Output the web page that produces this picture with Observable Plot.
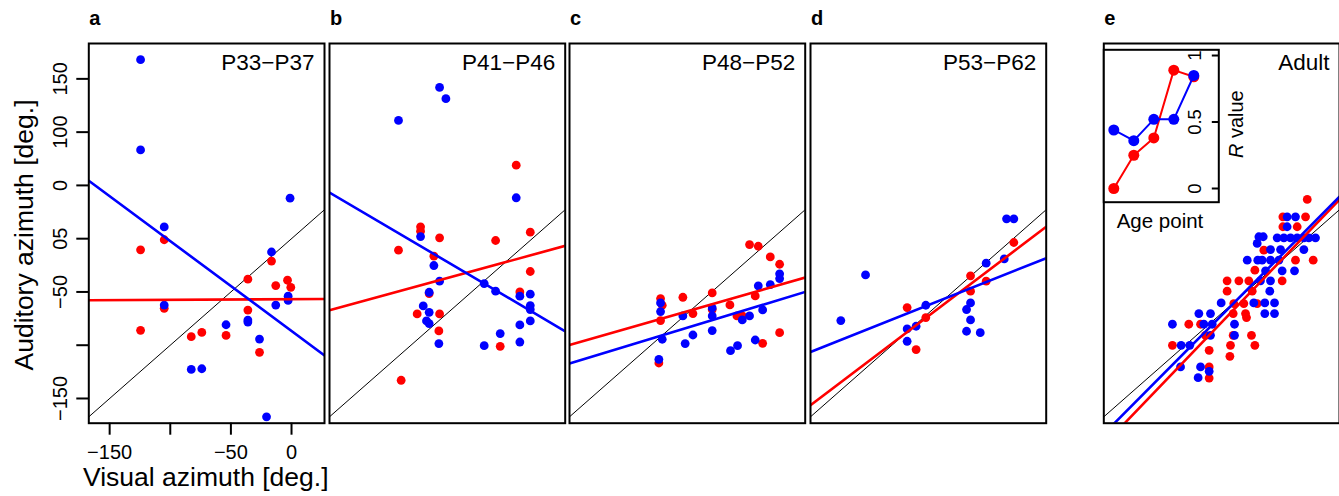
<!DOCTYPE html>
<html><head><meta charset="utf-8">
<script src="https://cdn.jsdelivr.net/npm/d3@7"></script>
<script src="https://cdn.jsdelivr.net/npm/@observablehq/plot@0.6"></script>
<style>
body{margin:0;background:#fff;}
#root{position:relative;width:1339px;height:496px;overflow:hidden;background:#fff;}
#root svg{position:absolute;left:0;top:0;background:transparent !important;overflow:visible;}
</style></head><body><div id="root"></div>
<script>
// ---------- data ----------
const panelLetters = ["a","b","c","d","e"];
const panelTitles = ["P33\u2212P37","P41\u2212P46","P48\u2212P52","P53\u2212P62","Adult"];

const aRed = [[-105,-1],[-124.5,-10.5],[-16.5,-21],[-36,-38],[-13,-44],[-3.3,-39],[-0.6,-45.7],[-105,-65.4],[-36,-67],[-124.5,-86],[-74,-88],[-82.7,-92],[-54,-90.8],[-26.4,-106.7]];
const aBlue = [[-124.5,168],[-124.5,83.3],[-1.2,38],[-105,11],[-16.5,-12.5],[-2.8,-54],[-2.8,-58],[-13,-62.3],[-105,-62.3],[-36,-76.4],[-36,-78.3],[-54,-80.8],[-26.4,-94.2],[-82.7,-122.7],[-74,-122.1],[-20.6,-167.2]];

const bRed = [[-13.2,69],[-92.1,11.1],[-92.1,7],[-76.4,0.8],[-110.3,-10.8],[-1.6,6.1],[-30.2,-1.7],[-81.1,-16.4],[-1.6,-30.8],[-85,-51.5],[-10.2,-50],[-94.9,-70.6],[-76.4,-70.6],[-77,-86.6],[-26.4,-101],[-108.1,-132.9]];
const bBlue = [[-76.4,142],[-71.2,131.4],[-110.3,111],[-13.2,38.4],[-92.1,2],[-81.1,-25.2],[-76.4,-39.9],[-85,-50.3],[-89.9,-63.1],[-85,-69.1],[-87.2,-77.2],[-85,-79.7],[-77,-98.5],[-39.6,-42.1],[-30.2,-49.3],[-10.2,-54],[-1.6,-52.1],[-1.6,-62.8],[-1.6,-66.5],[-1.6,-77.2],[-10.2,-81],[-26.4,-89.1],[-39.6,-100.4],[-10.2,-97]];

const cRed = [[-92.1,-56.2],[-90.7,-62.5],[-92.1,-76.9],[-93.5,-116.7],[-73.7,-55],[-65.4,-70.3],[-49.5,-50.9],[-49.5,-66.5],[-34.9,-62.2],[-29.1,-72.5],[-24.7,-72.5],[-18.7,-5.5],[-11.5,-7.1],[-1.6,-17.1],[6.1,-24],[-14,-53.7],[6.1,-88.2],[-7.9,-98.2]];
const cBlue = [[-92.1,-60.3],[-92.1,-68.4],[-90.7,-94.4],[-93.5,-113.2],[-73.7,-72.5],[-71.8,-98.5],[-65.4,-90.4],[-49.5,-65],[-49.5,-72.5],[-49.5,-86.3],[-34.4,-105.1],[-28.6,-100.4],[-24.7,-76.3],[-18.7,-72.5],[-11.5,-44.3],[-7.9,-66.9],[-14,-95.1],[-1.6,-43.1],[6.1,-33],[6.1,-37.4]];

const dRed = [[-87.5,-64.7],[-80.1,-104.1],[-72.1,-74.1],[-35.2,-34.9],[-35.2,-49.3],[-22.3,-39.9],[0.5,-3.6]];
const dBlue = [[-142.2,-76.9],[-121.8,-34],[-87.5,-84.7],[-87.5,-96.3],[-80.1,-82.2],[-72.1,-62.5],[-38.5,-66.5],[-35.2,-60.3],[-35.2,-76.3],[-38.5,-86.9],[-27.2,-88.2],[-22.3,-23],[-7.4,-19],[-5.5,18.6],[0.5,18.6]];

const eRed = [[0.6,36.8],[-19.5,20.5],[-0.8,20.5],[-19.5,11.2],[-7.7,11.2],[-35.2,-10.8],[5.5,-20.2],[-9.1,-20.2],[-42.6,-29.6],[-20.1,-39.6],[-65.5,-39.6],[-55.8,-39.6],[-47.6,-39.6],[-65.5,-49.3],[-44.8,-49.3],[-60,-60.9],[-51.7,-60.9],[-40.7,-60.9],[-60.5,-70.3],[-50.3,-70.3],[-49.5,-74.1],[-97.1,-80.3],[-87.4,-80.3],[-83.3,-90.7],[-60.5,-90.7],[-45.4,-90.7],[-110.6,-100.1],[-62.7,-100.1],[-42.6,-100.1],[-80.3,-104.8],[-63.2,-110.4],[-80.3,-120.4],[-80.3,-130.8]];
const eBlue = [[-16,20.5],[-9.1,20.5],[-16,11.2],[-39.3,1.8],[-35.7,1.8],[-24.2,0.8],[-18.7,0.8],[-13.2,0.8],[-7.7,0.8],[-2.2,0.8],[1.9,0.8],[7.4,0.8],[-40.7,-4.5],[-29.7,-10.2],[-21.4,-10.2],[-2.2,-10.2],[-48.9,-20.2],[-40.2,-20.2],[-36.6,-20.2],[-29.7,-20.2],[-22.8,-20.2],[-33.8,-30.2],[-20.1,-30.2],[-9.9,-30.2],[-29.7,-39.6],[-38,-39.6],[-30.3,-49.3],[-70.4,-60.3],[-43.5,-60.3],[-34.4,-60.3],[-26.4,-60.3],[-88.8,-70.3],[-79.2,-70.3],[-34.4,-70.3],[-26.4,-70.3],[-110.6,-80.3],[-84.7,-80.3],[-77.8,-80.3],[-59.4,-80.3],[-79.2,-90.7],[-59.4,-90.7],[-103.4,-100.1],[-96.3,-100.1],[-103.9,-120.4],[-87.4,-120.4],[-80.3,-124.5],[-89.4,-130.5]];

// regression fits per panel: [slope, intercept]
const redFits  = [[0.006,-56.8],[0.311,-15.2],[0.326,-45.4],[0.862,-12.3],[1.185,4.5]];
const blueFits = [[-0.843,-86.6],[-0.670,-68.7],[0.346,-59.4],[0.453,-30.6],[1.145,8.2]];

const xTickValues = [-150,-100,-50,0];
const xTickLabels = ["\u2212150","","\u221250","0"];
const yTickValues = [150,100,50,0,-50,-100,-150];
const yTickLabels = ["150","100","0","05","\u221250","","\u2212150"];

// inset: R value by age point
const agePoints = [1,2,3,4,5];
const redR  = [0.0,0.25,0.38,0.89,0.84];
const blueR = [0.44,0.36,0.52,0.52,0.85];
const rTickValues = [0,0.5,1];
const rTickLabels = ["0","0.5","1"];

// ---------- layout ----------
const W = 1339, H = 496;
const FONT = "'Liberation Sans', Arial, Helvetica, sans-serif";
const xDomain = [-167.2, 27.2], yDomain = [-173.2, 183.2];
const panelLeft = [88.3, 329, 569, 810, 1103.3];
const panelW = 235.7, panelTop = 43, panelBottom = 422.7;
const RED = "#ff0000", BLUE = "#0000ff";
const root = document.getElementById("root");

const redSets = [aRed,bRed,cRed,dRed,eRed];
const blueSets = [aBlue,bBlue,cBlue,dBlue,eBlue];
const xLab = new Map(xTickValues.map((v,i)=>[v,xTickLabels[i]]));
const yLab = new Map(yTickValues.map((v,i)=>[v,yTickLabels[i]]));

panelLetters.forEach((letter, i) => {
  const L = panelLeft[i];
  const fitLine = ([m,b]) => xDomain.map(x => ({x, y: m*x + b}));
  const marks = [
    Plot.line(xDomain.map(x=>({x, y:x})), {x:"x", y:"y", stroke:"black", strokeWidth:1, clip:true}),
    Plot.dot(redSets[i], {x:d=>d[0], y:d=>d[1], r:4.4, fill:RED}),
    Plot.dot(blueSets[i], {x:d=>d[0], y:d=>d[1], r:4.4, fill:BLUE}),
    Plot.line(fitLine(redFits[i]), {x:"x", y:"y", stroke:RED, strokeWidth:2.6, clip:true}),
    Plot.line(fitLine(blueFits[i]), {x:"x", y:"y", stroke:BLUE, strokeWidth:2.6, clip:true}),
    Plot.text([panelTitles[i]], {text:d=>d, frameAnchor:"top-right", dx:-10, dy:26, fontSize:22.5, textAnchor:"end", lineAnchor:"bottom", fill:"black"}),
    Plot.frame({stroke:"black", strokeWidth:2})
  ];
  if (i === 0) {
    marks.push(Plot.axisX({ticks:xTickValues, tickFormat:d=>xLab.get(d), tickSize:12, tickPadding:10, fontSize:20, strokeWidth:2, label:null}));
    marks.push(Plot.axisY({ticks:yTickValues, tickFormat:d=>yLab.get(d), tickSize:12, tickPadding:10, tickRotate:-90, fontSize:20, strokeWidth:2, label:null}));
  }
  const svg = Plot.plot({
    width: W, height: H,
    marginLeft: L, marginRight: W - L - panelW, marginTop: panelTop, marginBottom: H - panelBottom,
    x: {domain: xDomain, axis: i === 0 ? undefined : null},
    y: {domain: yDomain, axis: i === 0 ? undefined : null},
    style: {background: "transparent", fontFamily: FONT, overflow: "visible"},
    marks
  });
  root.appendChild(svg);
});

// inset in panel e
const insetLeft = 1103.3, insetRight = 1218.3, insetTop = 49.3, insetBottom = 201.7;
const redRows = agePoints.map((a,i)=>({a, r:redR[i]}));
const blueRows = agePoints.map((a,i)=>({a, r:blueR[i]}));
const inset = Plot.plot({
  width: W, height: H,
  marginLeft: insetLeft, marginRight: W - insetRight, marginTop: insetTop, marginBottom: H - insetBottom,
  x: {domain: [0.5, 6.25], axis: null},
  y: {domain: [-0.103, 1.043], axis: null},
  style: {background: "transparent", fontFamily: FONT, overflow: "visible"},
  marks: [
    Plot.frame({fill:"white"}),
    Plot.line(redRows, {x:"a", y:"r", stroke:RED, strokeWidth:2}),
    Plot.dot(redRows, {x:"a", y:"r", r:5.5, fill:RED}),
    Plot.line(blueRows, {x:"a", y:"r", stroke:BLUE, strokeWidth:2}),
    Plot.dot(blueRows, {x:"a", y:"r", r:5.5, fill:BLUE}),
    Plot.tickY(rTickValues, {y:d=>d, insetLeft:108.5, stroke:"black", strokeWidth:2}),
    Plot.text(rTickValues, {y:d=>d, text:d=>rTickLabels[rTickValues.indexOf(d)], frameAnchor:"right", dx:-17.5, rotate:-90, textAnchor:"middle", lineAnchor:"bottom", fontSize:18.5, fill:"black"}),
    Plot.frame({stroke:"black", strokeWidth:2})
  ]
});
root.appendChild(inset);

// overlay text (titles, letters)
const ov = d3.create("svg").attr("width", W).attr("height", H)
  .style("font-family", FONT).style("position","absolute").style("left","0").style("top","0");
panelLetters.forEach((l,i)=>{
  ov.append("text").attr("x", panelLeft[i] + 1).attr("y", 24.5).attr("font-size", 20).attr("font-weight","bold").text(l);
});
ov.append("text").attr("transform","translate(33.3,235) rotate(-90)").attr("text-anchor","middle").attr("font-size",26.5).text("Auditory azimuth [deg.]");
ov.append("text").attr("x",205.8).attr("y",486).attr("text-anchor","middle").attr("font-size",26.5).text("Visual azimuth [deg.]");
ov.append("text").attr("x",1160).attr("y",228.3).attr("text-anchor","middle").attr("font-size",20.5).text("Age point");
const rv = ov.append("text").attr("transform","translate(1243,124.2) rotate(-90)").attr("text-anchor","middle").attr("font-size",20);
rv.append("tspan").attr("font-style","italic").text("R");
rv.append("tspan").text(" value");
root.appendChild(ov.node());
</script></body></html>
